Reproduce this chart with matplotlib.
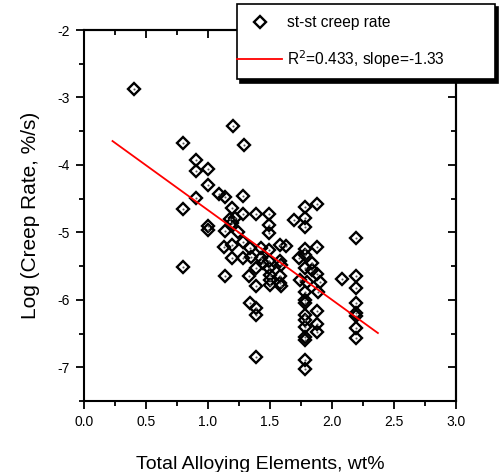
import numpy as np
import matplotlib
matplotlib.use("Agg")
import matplotlib.pyplot as plt

plt.rcParams['font.family'] = ['Liberation Sans', 'DejaVu Sans']

# total alloying elements (wt%) and log steady-state creep rate
alloy = [0.40, 0.80, 0.80, 0.80, 0.90, 0.90, 0.90, 1.00, 1.00, 1.00,
         1.00, 1.09, 1.14, 1.14, 1.14, 1.13, 1.19, 1.18, 1.22, 1.19,
         1.19, 1.19, 1.20, 1.29, 1.28, 1.28, 1.24, 1.28, 1.28, 1.34,
         1.35, 1.33, 1.34, 1.39, 1.39, 1.39, 1.39, 1.39, 1.39, 1.43,
         1.43, 1.44, 1.49, 1.49, 1.49, 1.49, 1.49, 1.49, 1.50, 1.50,
         1.50, 1.58, 1.63, 1.58, 1.59, 1.58, 1.58, 1.59, 1.69, 1.73,
         1.78, 1.88, 1.78, 1.78, 2.19, 1.78, 1.88, 1.78, 1.84, 1.84,
         1.88, 1.90, 1.89, 1.78, 1.74, 1.80, 1.78, 1.78, 1.78, 1.78,
         1.78, 1.78, 1.78, 1.78, 1.78, 1.78, 1.88, 1.88, 1.88, 2.08,
         2.19, 2.19, 2.19, 2.19, 2.19, 2.19, 2.19]
log_rate = [-2.87, -3.68, -4.65, -5.51, -3.93, -4.09, -4.49, -4.06, -4.30, -4.90,
            -4.96, -4.43, -4.47, -4.98, -5.64, -5.22, -4.64, -4.80, -4.78, -4.86,
            -5.19, -5.38, -3.43, -3.71, -4.46, -4.73, -4.99, -5.14, -5.38, -5.23,
            -5.36, -5.65, -6.05, -4.73, -5.53, -5.80, -6.12, -6.22, -6.85, -5.23,
            -5.38, -5.45, -4.73, -4.89, -5.01, -5.26, -5.43, -5.53, -5.63, -5.78,
            -5.70, -5.19, -5.20, -5.43, -5.48, -5.65, -5.75, -5.80, -4.81, -5.38,
            -4.62, -4.58, -4.78, -4.92, -5.08, -5.25, -5.21, -5.33, -5.46, -5.56,
            -5.61, -5.73, -5.88, -5.53, -5.70, -5.73, -5.88, -6.00, -6.05, -6.22,
            -6.30, -6.40, -6.55, -6.59, -6.89, -7.03, -6.17, -6.36, -6.48, -5.69,
            -5.64, -5.83, -6.05, -6.20, -6.24, -6.42, -6.57]

# linear fit from the legend
fit_x = [0.23, 2.37]
fit_intercept = -3.34
fit_slope = -1.33
fit_y = [fit_intercept + fit_slope * v for v in fit_x]

xmajor = np.arange(0, 3.01, 0.5)
xminor = np.arange(0.25, 3.0, 0.5)
ymajor = np.arange(-7, -1.9, 1)
yminor = np.arange(-7.5, -2.0, 1)

fig = plt.figure(figsize=(5.02, 4.72), dpi=100)
ax = fig.add_axes([0.1673, 0.1504, 0.7411, 0.786])

ax.plot(alloy, log_rate, ls='none', marker='D', ms=6.4, mfc='none',
        mec='black', mew=1.7, label='st-st creep rate')
ax.plot(alloy, log_rate, ls='none', marker='o', ms=1.5, mfc='0.35', mec='none')
ax.plot(fit_x, fit_y, color='red', lw=1.3,
        label='R$^{2}$=0.433, slope=-1.33')

ax.set_xlim(0, 3.0)
ax.set_ylim(-7.5, -2)
ax.set_xticks(xmajor)
ax.set_xticks(xminor, minor=True)
ax.set_yticks(ymajor)
ax.set_yticks(yminor, minor=True)
ax.set_xticklabels(['%.1f' % v for v in xmajor])
ax.set_yticklabels(['%d' % v for v in ymajor])

for s in ax.spines.values():
    s.set_linewidth(1.5)
ax.tick_params(which='both', direction='out', width=1.3, labelsize=10, pad=4)
ax.tick_params(which='major', length=6)
ax.tick_params(which='minor', length=3.5)

# Origin style: top/right ticks point inward, no labels
top = ax.secondary_xaxis('top')
top.set_xticks(xmajor)
top.set_xticks(xminor, minor=True)
top.tick_params(which='both', direction='in', width=1.3, labeltop=False)
top.tick_params(which='major', length=6)
top.tick_params(which='minor', length=3.5)
right = ax.secondary_yaxis('right')
right.set_yticks(ymajor)
right.set_yticks(yminor, minor=True)
right.tick_params(which='both', direction='in', width=1.3, labelright=False)
right.tick_params(which='major', length=6)
right.tick_params(which='minor', length=3.5)
for sec in (top, right):
    for s in sec.spines.values():
        s.set_linewidth(1.5)

ax.set_xlabel('Total Alloying Elements, wt%', fontsize=14, va='center')
ax.xaxis.set_label_coords(0.473, -0.17)
ax.set_ylabel('Log (Creep Rate, %/s)', fontsize=15, va='center')
ax.yaxis.set_label_coords(-0.145, 0.5)

leg = ax.legend(loc='upper left', bbox_to_anchor=(237 / 502, 1 - 4 / 472, 258 / 502, 0.0),
                bbox_transform=fig.transFigure, mode='expand', fontsize=11.2,
                borderpad=0.0, handlelength=2.9, handleheight=3.35,
                handletextpad=0.3, labelspacing=0.0, borderaxespad=0,
                fancybox=False, edgecolor='black', framealpha=1,
                shadow={'color': 'black', 'alpha': 1, 'ox': 2.5, 'oy': -2.5})
leg.get_frame().set_linewidth(1.2)
leg.set_zorder(10)
# put the legend handles on the text's mid-line
for h in leg.legend_handles:
    h.set_ydata(np.asarray(h.get_ydata()) - 4.3)

fig.savefig('out.png', dpi=100)
